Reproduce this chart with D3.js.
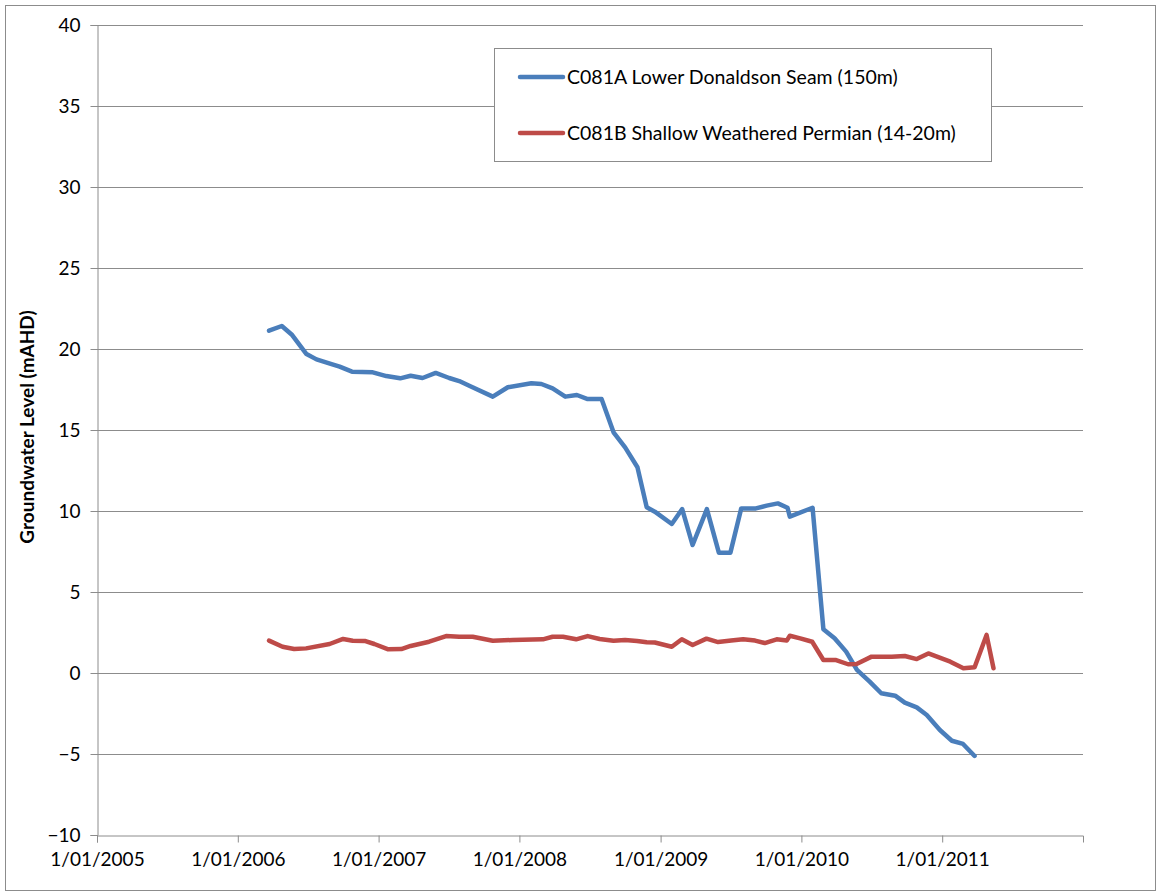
<!DOCTYPE html>
<html>
<head>
<meta charset="utf-8">
<script src="https://cdn.jsdelivr.net/npm/d3@7"></script>
<style>
  body { margin: 0; background: #fff; }
  svg text { font-family: Lato, "Noto Sans", sans-serif; fill: #000; }
</style>
</head>
<body>
<div id="chart"></div>
<script>
// C081A Lower Donaldson Seam (150m)
const datesA = ["2006-03-23","2006-04-25","2006-05-22","2006-06-28","2006-07-24","2006-09-01","2006-09-22","2006-10-24",
  "2006-12-17","2007-01-21","2007-02-26","2007-03-25","2007-04-25","2007-05-29","2007-07-03","2007-07-29","2007-08-24",
  "2007-10-24","2007-12-02","2008-02-01","2008-02-27","2008-03-27","2008-04-29","2008-05-29","2008-06-26","2008-08-01",
  "2008-09-01","2008-10-01","2008-11-02","2008-11-26","2008-12-17","2009-01-30","2009-02-26","2009-03-25","2009-05-01",
  "2009-06-01","2009-07-01","2009-07-29","2009-09-05","2009-10-03","2009-11-01","2009-11-26","2009-12-02","2010-01-30",
  "2010-02-27","2010-03-28","2010-04-27","2010-05-25","2010-06-27","2010-07-27","2010-09-01","2010-09-26","2010-10-27",
  "2010-11-22","2010-12-26","2011-01-26","2011-02-24","2011-03-26"];
const levelsA = [21.13,21.42,20.86,19.69,19.36,19.07,18.91,18.60,
  18.56,18.33,18.19,18.35,18.21,18.52,18.21,18.02,17.73,
  17.06,17.64,17.88,17.84,17.57,17.06,17.16,16.91,16.91,
  14.86,13.93,12.70,10.23,9.96,9.20,10.12,7.90,10.12,
  7.43,7.43,10.16,10.16,10.33,10.47,10.20,9.65,10.20,
  2.70,2.14,1.32,0.19,-0.53,-1.25,-1.40,-1.83,-2.12,
  -2.59,-3.52,-4.18,-4.38,-5.12];

// C081B Shallow Weathered Permian (14-20m)
const datesB = ["2006-03-23","2006-04-27","2006-05-27","2006-06-27","2006-08-27","2006-10-01","2006-10-26","2006-11-26",
  "2006-12-21","2007-01-26","2007-03-01","2007-03-25","2007-05-12","2007-06-25","2007-07-29","2007-09-02","2007-10-24",
  "2007-12-15","2008-03-02","2008-03-27","2008-04-23","2008-05-27","2008-06-26","2008-07-27","2008-09-01","2008-10-01",
  "2008-11-01","2008-11-26","2008-12-17","2009-01-30","2009-02-25","2009-03-25","2009-04-30","2009-05-30","2009-07-03",
  "2009-08-03","2009-09-03","2009-09-28","2009-10-29","2009-11-24","2009-12-02","2009-12-29","2010-01-29","2010-02-27",
  "2010-04-01","2010-05-02","2010-05-24","2010-07-02","2010-08-23","2010-09-26","2010-10-27","2010-11-26","2011-01-22",
  "2011-02-25","2011-03-26","2011-04-26","2011-05-14"];
const levelsB = [2.00,1.62,1.48,1.52,1.79,2.10,1.99,1.98,
  1.79,1.46,1.48,1.67,1.93,2.28,2.24,2.24,1.99,
  2.04,2.08,2.24,2.24,2.08,2.28,2.10,1.99,2.04,
  1.98,1.90,1.88,1.62,2.08,1.73,2.12,1.91,2.00,
  2.08,2.00,1.85,2.08,2.00,2.30,2.14,1.93,0.80,
  0.80,0.54,0.56,1.01,1.01,1.05,0.86,1.21,0.70,
  0.29,0.35,2.35,0.29];

const seriesNames = ["C081A Lower Donaldson Seam (150m)", "C081B Shallow Weathered Permian (14-20m)"];
const seriesColors = ["#4a7ebb", "#be4b48"];
const yTicks = [-10, -5, 0, 5, 10, 15, 20, 25, 30, 35, 40];
const xTickYears = [2005, 2006, 2007, 2008, 2009, 2010, 2011];

const W = 1162, H = 894;
const margin = {top: 25, right: 79, bottom: 59, left: 97};
const width = W - margin.left - margin.right;
const height = H - margin.top - margin.bottom;

const parse = d3.timeParse("%Y-%m-%d");
const series = [
  datesA.map((d, i) => ({date: parse(d), value: levelsA[i]})),
  datesB.map((d, i) => ({date: parse(d), value: levelsB[i]}))
];

const root = d3.select("#chart").append("svg")
  .attr("width", W)
  .attr("height", H);

// outer chart border
root.append("rect")
  .attr("x", 5.5).attr("y", 5.5)
  .attr("width", 1150).attr("height", 885)
  .attr("fill", "none")
  .attr("stroke", "#8c8c8c")
  .attr("stroke-width", 1);

const svg = root.append("g")
  .attr("transform", "translate(" + margin.left + "," + margin.top + ")");

const x = d3.scaleTime()
  .domain([new Date(2005, 0, 1), new Date(2012, 0, 1)])
  .range([0, width]);

const y = d3.scaleLinear()
  .domain([-10, 40])
  .range([height, 0]);

// horizontal grid lines
svg.append("g")
  .selectAll("line")
  .data(yTicks.filter(d => d !== -10))
  .enter()
  .append("line")
  .attr("x1", 0)
  .attr("x2", width)
  .attr("y1", d => Math.round(y(d)) + 0.5)
  .attr("y2", d => Math.round(y(d)) + 0.5)
  .attr("stroke", "#8c8c8c")
  .attr("stroke-width", 1);

// Y axis
const yAxis = svg.append("g")
  .attr("transform", "translate(0.5,0)")
  .call(d3.axisLeft(y).tickValues(yTicks).tickSize(7).tickPadding(10).tickFormat(d3.format("d")));
yAxis.selectAll("line, path").attr("stroke", "#8c8c8c");
yAxis.selectAll("text")
  .style("font-size", "19px")
  .style("font-family", "Lato, sans-serif");

// X axis
const xAxis = svg.append("g")
  .attr("transform", "translate(0," + (height + 0.5) + ")")
  .call(d3.axisBottom(x)
    .tickValues(xTickYears.map(yr => new Date(yr, 0, 1)))
    .tickSize(7).tickPadding(10)
    .tickFormat(d3.timeFormat("1/01/%Y")));
xAxis.selectAll("line, path").attr("stroke", "#8c8c8c");
xAxis.selectAll("text")
  .style("font-size", "19px")
  .style("font-family", "Lato, sans-serif");

// Axis title
svg.append("text")
  .attr("transform", "rotate(-90)")
  .attr("x", -(y(15)) + 3)
  .attr("y", -63)
  .style("text-anchor", "middle")
  .style("font-weight", "bold")
  .style("font-size", "19px")
  .text("Groundwater Level (mAHD)");

// Lines
const line = d3.line()
  .x(d => x(d.date))
  .y(d => y(d.value));

series.forEach((s, i) => {
  svg.append("path")
    .datum(s)
    .attr("fill", "none")
    .attr("stroke", seriesColors[i])
    .attr("stroke-width", 4.5)
    .attr("stroke-linejoin", "round")
    .attr("stroke-linecap", "round")
    .attr("d", line);
});

// Legend
const legend = root.append("g");
legend.append("rect")
  .attr("x", 494.5).attr("y", 48.5)
  .attr("width", 497).attr("height", 113)
  .attr("fill", "#fff")
  .attr("stroke", "#8c8c8c");

seriesNames.forEach((name, i) => {
  const ly = 77 + i * 56;
  legend.append("line")
    .attr("x1", 520).attr("x2", 563)
    .attr("y1", ly).attr("y2", ly)
    .attr("stroke", seriesColors[i])
    .attr("stroke-width", 4.5)
    .attr("stroke-linecap", "round");
  legend.append("text")
    .attr("x", 567)
    .attr("y", ly)
    .attr("dy", "0.35em")
    .style("font-size", "19.5px")
    .text(name);
});
</script>
</body>
</html>
